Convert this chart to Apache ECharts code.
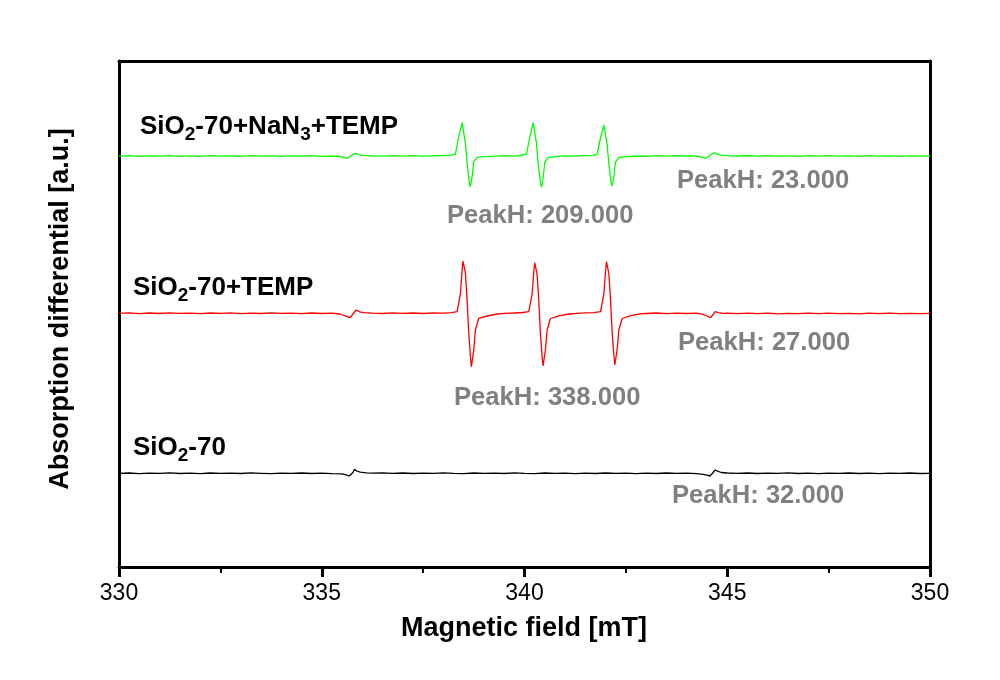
<!DOCTYPE html>
<html>
<head>
<meta charset="utf-8">
<script src="https://cdn.jsdelivr.net/npm/echarts@6/dist/echarts.min.js"></script>
<style>html,body{margin:0;padding:0;background:#fff}#c{width:1000px;height:680px}</style>
</head>
<body>
<div id="c"></div>
<script>
// X ticks
var xTicks = [330, 335, 340, 345, 350];

// SiO2-70 (black)
var blackField = [330.0,330.25,330.5,330.75,331.0,331.25,331.5,331.75,332.0,332.25,332.5,332.75,333.0,333.25,333.5,333.75,334.0,334.25,334.5,334.75,335.0,335.25,335.5,335.6,335.68,335.72,335.77,335.81,335.86,335.95,336.1,336.25,336.5,336.75,337.0,337.25,337.5,337.75,338.0,338.25,338.5,338.75,339.0,339.25,339.5,339.75,340.0,340.25,340.5,340.75,341.0,341.25,341.5,341.75,342.0,342.25,342.5,342.75,343.0,343.25,343.5,343.75,344.0,344.25,344.4,344.5,344.575,344.64,344.7,344.76,344.85,345.0,345.25,345.5,345.75,346.0,346.25,346.5,346.75,347.0,347.25,347.5,347.75,348.0,348.25,348.5,348.75,349.0,349.25,349.5,349.75,350.0];
var blackValue = [93.5,94.0,93.4,93.9,93.6,94.1,93.5,93.8,93.4,94.0,93.6,93.9,93.5,94.1,93.7,93.3,93.9,93.6,94.0,93.5,93.8,93.4,93.2,92.2,91.0,90.3,94.5,97.7,96.0,94.8,94.2,93.8,94.1,93.6,94.0,93.5,93.9,93.6,94.1,93.7,93.4,94.0,93.6,93.9,93.5,94.1,93.7,93.4,94.0,93.6,93.9,93.3,93.8,93.5,94.0,93.6,93.9,93.4,93.8,93.5,94.0,93.6,93.8,93.3,92.6,91.8,91.0,94.0,97.0,95.8,94.5,94.0,93.6,94.0,93.5,93.9,93.6,94.1,93.5,93.8,93.4,93.9,93.6,94.0,93.5,93.8,93.4,93.9,93.6,94.0,93.5,93.7];

// SiO2-70+TEMP (red)
var redField = [330.0,330.25,330.5,330.75,331.0,331.25,331.5,331.75,332.0,332.25,332.5,332.75,333.0,333.25,333.5,333.75,334.0,334.25,334.5,334.75,335.0,335.25,335.45,335.58,335.70,335.78,335.85,335.93,336.05,336.25,336.5,336.75,337.0,337.25,337.5,337.75,338.0,338.2,
  338.338,338.42,338.462,338.484,338.543,338.585,338.625,338.667,338.69,338.748,338.79,338.872,339.079,339.326,339.5,339.75,339.95,
  340.106,340.188,340.23,340.252,340.311,340.353,340.393,340.435,340.458,340.516,340.558,340.64,340.847,341.094,341.3,341.5,341.7,
  341.876,341.958,342.0,342.022,342.081,342.123,342.163,342.205,342.228,342.286,342.328,342.41,342.617,342.864,343.0,343.25,343.5,343.75,344.0,344.25,344.4,344.5,344.59,344.65,344.70,344.78,344.9,345.0,345.25,345.5,345.75,346.0,346.25,346.5,346.75,347.0,347.25,347.5,347.75,348.0,348.25,348.5,348.75,349.0,349.25,349.5,349.75,350.0];
var redValue = [253.6,254.1,253.4,254.0,253.5,254.2,253.6,253.9,253.3,254.0,253.6,254.1,253.4,253.9,253.5,254.1,253.6,253.9,253.4,254.0,253.5,253.8,253.0,251.2,249.3,253.5,257.0,255.2,254.3,253.9,253.5,254.1,253.6,254.0,253.5,254.1,253.8,254.3,
  255.3,273.7,297.0,306.0,293.7,267.0,233.7,210.3,200.3,217.0,237.0,248.7,251.0,253.0,253.6,254.0,254.5,
  255.3,273.0,296.0,304.3,292.5,266.0,233.0,210.0,201.0,217.5,237.0,248.5,251.2,253.0,253.7,254.1,254.4,
  255.3,273.5,296.5,305.3,293.0,266.5,233.5,211.0,202.0,218.0,237.5,248.5,251.3,253.2,253.5,254.0,253.4,253.9,253.5,253.8,252.6,251.0,249.3,252.5,255.3,254.3,253.6,253.8,253.3,253.9,253.4,253.8,253.2,253.7,253.3,253.9,253.4,253.8,253.3,253.7,253.2,253.8,253.4,253.9,253.3,253.7,253.4,253.6];

// SiO2-70+NaN3+TEMP (green)
var greenField = [330.0,330.25,330.5,330.75,331.0,331.25,331.5,331.75,332.0,332.25,332.5,332.75,333.0,333.25,333.5,333.75,334.0,334.25,334.5,334.75,335.0,335.25,335.45,335.55,335.64,335.73,335.83,335.9,336.0,336.25,336.5,336.75,337.0,337.25,337.5,337.75,338.0,338.2,
  338.296,338.378,338.462,338.543,338.585,338.642,338.667,338.709,338.748,338.832,338.95,339.079,339.25,339.5,339.75,339.9,
  340.049,340.131,340.215,340.296,340.338,340.395,340.42,340.462,340.501,340.585,340.7,340.83,341.0,341.25,341.5,341.7,
  341.792,341.874,341.958,342.039,342.081,342.138,342.163,342.205,342.244,342.328,342.45,342.575,342.75,343.0,343.25,343.5,343.75,344.0,344.2,344.35,344.47,344.57,344.67,344.75,344.85,345.0,345.25,345.5,345.75,346.0,346.25,346.5,346.75,347.0,347.25,347.5,347.75,348.0,348.25,348.5,348.75,349.0,349.25,349.5,349.75,350.0];
var greenValue = [410.8,411.3,410.6,411.2,410.9,411.4,410.7,411.1,410.6,411.3,410.9,411.2,410.7,411.4,410.8,411.1,410.6,411.2,410.9,411.3,410.7,411.0,410.4,409.6,408.7,411.5,413.7,412.4,411.6,411.2,410.8,411.3,410.9,411.4,410.8,411.2,411.5,411.9,
  413.0,430.3,444.3,423.7,403.7,383.7,380.3,390.3,405.3,409.7,410.2,410.3,410.9,411.3,410.8,411.5,
  413.0,430.0,444.3,423.5,403.5,383.5,379.7,390.0,405.0,409.5,410.2,410.6,411.1,410.8,411.3,411.6,
  412.8,429.0,442.0,422.0,403.0,384.0,381.0,390.5,405.0,409.5,410.1,410.5,411.0,410.7,411.3,410.9,411.4,411.0,411.2,410.2,408.7,411.5,414.3,412.8,411.8,411.4,411.0,411.5,410.9,411.3,410.8,411.2,410.7,411.3,410.9,411.4,410.8,411.2,410.7,411.3,410.9,411.2,410.6,411.1,410.8,411.0];

var peakLabels = ['PeakH: 23.000', 'PeakH: 209.000', 'PeakH: 27.000', 'PeakH: 338.000', 'PeakH: 32.000'];

function pairs(xs, ys) { return xs.map(function (x, i) { return [x, ys[i]]; }); }

var FONT = 'Liberation Sans, Arial, sans-serif';
var chart = echarts.init(document.getElementById('c'), null, {renderer: 'canvas'});

var nameRich = {
  m: {fontFamily: FONT, fontSize: 26, fontWeight: 'bold', color: '#000', lineHeight: 30, verticalAlign: 'top'},
  s: {fontFamily: FONT, fontSize: 19, fontWeight: 'bold', color: '#000', lineHeight: 6, verticalAlign: 'bottom'}
};
function nameText(x, yTop, txt) {
  return {type: 'text', left: x, top: yTop, z: 100,
    style: {text: txt, rich: nameRich, font: 'bold 26px ' + FONT}};
}
function peakText(x, yMid, txt) {
  return {type: 'text', x: x, y: yMid, z: 100,
    style: {text: txt, fontFamily: FONT, fontSize: 25.6, fontWeight: 'bold', fill: '#808080', align: 'left', verticalAlign: 'middle'}};
}

var option = {
  animation: false,
  backgroundColor: '#fff',
  grid: {left: 119, right: 70, top: 61, bottom: 113, containLabel: false},
  xAxis: [{
    type: 'value', min: xTicks[0], max: xTicks[xTicks.length - 1], interval: 5,
    axisLine: {show: true, onZero: false, lineStyle: {color: '#000', width: 3}},
    axisTick: {show: true, inside: false, length: 10, lineStyle: {color: '#000', width: 3}},
    minorTick: {show: true, splitNumber: 2, length: 6, lineStyle: {color: '#000', width: 2}},
    splitLine: {show: false},
    axisLabel: {color: '#000', fontFamily: FONT, fontSize: 23, margin: 15}
  }, {
    type: 'value', position: 'top', min: xTicks[0], max: xTicks[xTicks.length - 1],
    axisLine: {show: true, onZero: false, lineStyle: {color: '#000', width: 3}},
    axisTick: {show: false}, axisLabel: {show: false}, splitLine: {show: false}
  }],
  yAxis: [{
    type: 'value', min: 0, max: 506,
    axisLine: {show: true, onZero: false, lineStyle: {color: '#000', width: 3}},
    axisTick: {show: false}, axisLabel: {show: false}, splitLine: {show: false}
  }, {
    type: 'value', position: 'right', min: 0, max: 506,
    axisLine: {show: true, onZero: false, lineStyle: {color: '#000', width: 3}},
    axisTick: {show: false}, axisLabel: {show: false}, splitLine: {show: false}
  }],
  series: [
    {type: 'line', name: 'SiO2-70', data: pairs(blackField, blackValue), showSymbol: false, symbol: 'none',
      lineStyle: {color: '#000000', width: 1.3}, silent: true},
    {type: 'line', name: 'SiO2-70+TEMP', data: pairs(redField, redValue), showSymbol: false, symbol: 'none',
      lineStyle: {color: '#ff0000', width: 1.3}, silent: true},
    {type: 'line', name: 'SiO2-70+NaN3+TEMP', data: pairs(greenField, greenValue), showSymbol: false, symbol: 'none',
      lineStyle: {color: '#00ff00', width: 1.3}, silent: true}
  ],
  graphic: [
    nameText(140, 114, '{m|SiO}{s|2}{m|-70+NaN}{s|3}{m|+TEMP}'),
    nameText(133, 275, '{m|SiO}{s|2}{m|-70+TEMP}'),
    nameText(133, 435, '{m|SiO}{s|2}{m|-70}'),
    peakText(677, 181, peakLabels[0]),
    peakText(447, 216, peakLabels[1]),
    peakText(678, 343, peakLabels[2]),
    peakText(454, 398, peakLabels[3]),
    peakText(672, 496, peakLabels[4]),
    {type: 'text', x: 524, y: 629, z: 100,
      style: {text: 'Magnetic field [mT]', fontFamily: FONT, fontSize: 27, fontWeight: 'bold', fill: '#000', align: 'center', verticalAlign: 'middle'}},
    {type: 'text', x: 61, y: 309, rotation: Math.PI / 2, z: 100,
      style: {text: 'Absorption differential [a.u.]', fontFamily: FONT, fontSize: 27, fontWeight: 'bold', fill: '#000', align: 'center', verticalAlign: 'middle'}}
  ]
};
chart.setOption(option);
</script>
</body>
</html>
